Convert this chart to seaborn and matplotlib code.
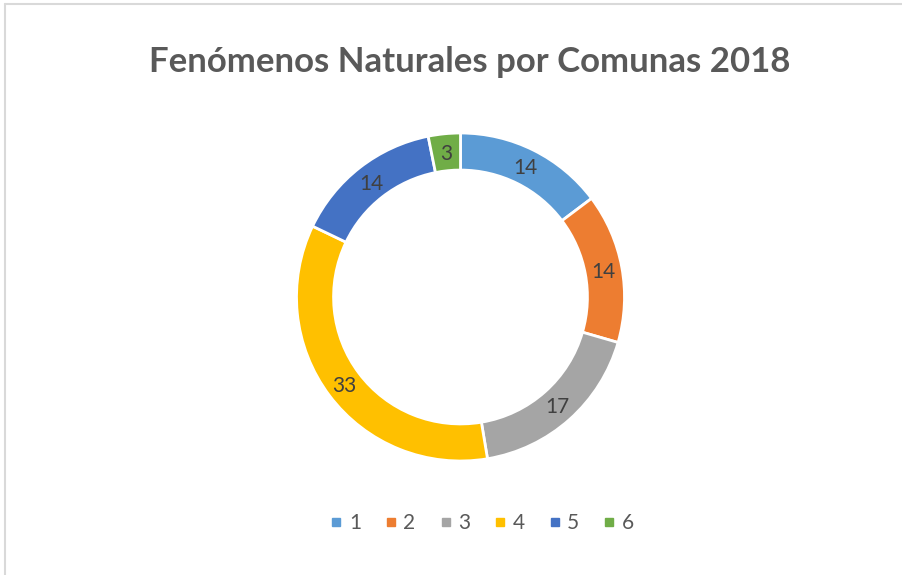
import matplotlib
matplotlib.use("Agg")
import matplotlib.pyplot as plt
from matplotlib.lines import Line2D
import numpy as np
import seaborn as sns

# Datos
comunas = ["1", "2", "3", "4", "5", "6"]
eventos = [14, 14, 17, 33, 14, 3]
colores = ["#5B9BD5", "#ED7D31", "#A5A5A5", "#FFC000", "#4472C4", "#70AD47"]
titulo = "Fenómenos Naturales por Comunas 2018"

sns.set_theme(style="white")
plt.rcParams["font.family"] = ["Lato", "DejaVu Sans"]
palette = sns.color_palette(colores)

W, H = 902, 575
fig = plt.figure(figsize=(W / 100, H / 100), dpi=100)
fig.patch.set_facecolor("white")

# Chart frame (top and left edges visible)
fig.add_artist(Line2D([5 / W, 5 / W], [0, 1 - 4 / H], transform=fig.transFigure,
                      color="#D9D9D9", lw=1.5))
fig.add_artist(Line2D([5 / W, 1], [1 - 4 / H, 1 - 4 / H], transform=fig.transFigure,
                      color="#D9D9D9", lw=1.5))

# Donut axes
cx, cy, r = 460.5, 297, 164
ax = fig.add_axes([(cx - r) / W, 1 - (cy + r) / H, 2 * r / W, 2 * r / H])
ring = 0.226
wedges, _ = ax.pie(eventos, colors=palette, startangle=90, counterclock=False,
                   radius=1, wedgeprops=dict(width=ring, edgecolor="white", linewidth=2))
ax.set_xlim(-1, 1)
ax.set_ylim(-1, 1)
ax.set_aspect("equal")
ax.axis("off")

total = sum(eventos)
ang = 90.0
for v in eventos:
    mid = np.deg2rad(ang - v / total * 360 / 2)
    rr = 1 - ring / 2
    ax.text(rr * np.cos(mid), rr * np.sin(mid) - 0.01, str(v), ha="center", va="center",
            fontsize=15, color="#404040")
    ang -= v / total * 360

fig.text(470 / W, 1 - 62 / H, titulo, ha="center", va="center",
         fontsize=25, fontweight="bold", color="#595959")

handles = [Line2D([], [], marker="s", linestyle="none", markersize=6,
                  markerfacecolor=c, markeredgecolor=c) for c in palette]
fig.legend(handles, comunas, loc="center", bbox_to_anchor=(481 / W, 1 - 523 / H),
           ncol=6, frameon=False, fontsize=15, labelcolor="#595959",
           handletextpad=0.2, columnspacing=1.04, handlelength=0.8)

fig.savefig("out.png", dpi=100, facecolor="white")
